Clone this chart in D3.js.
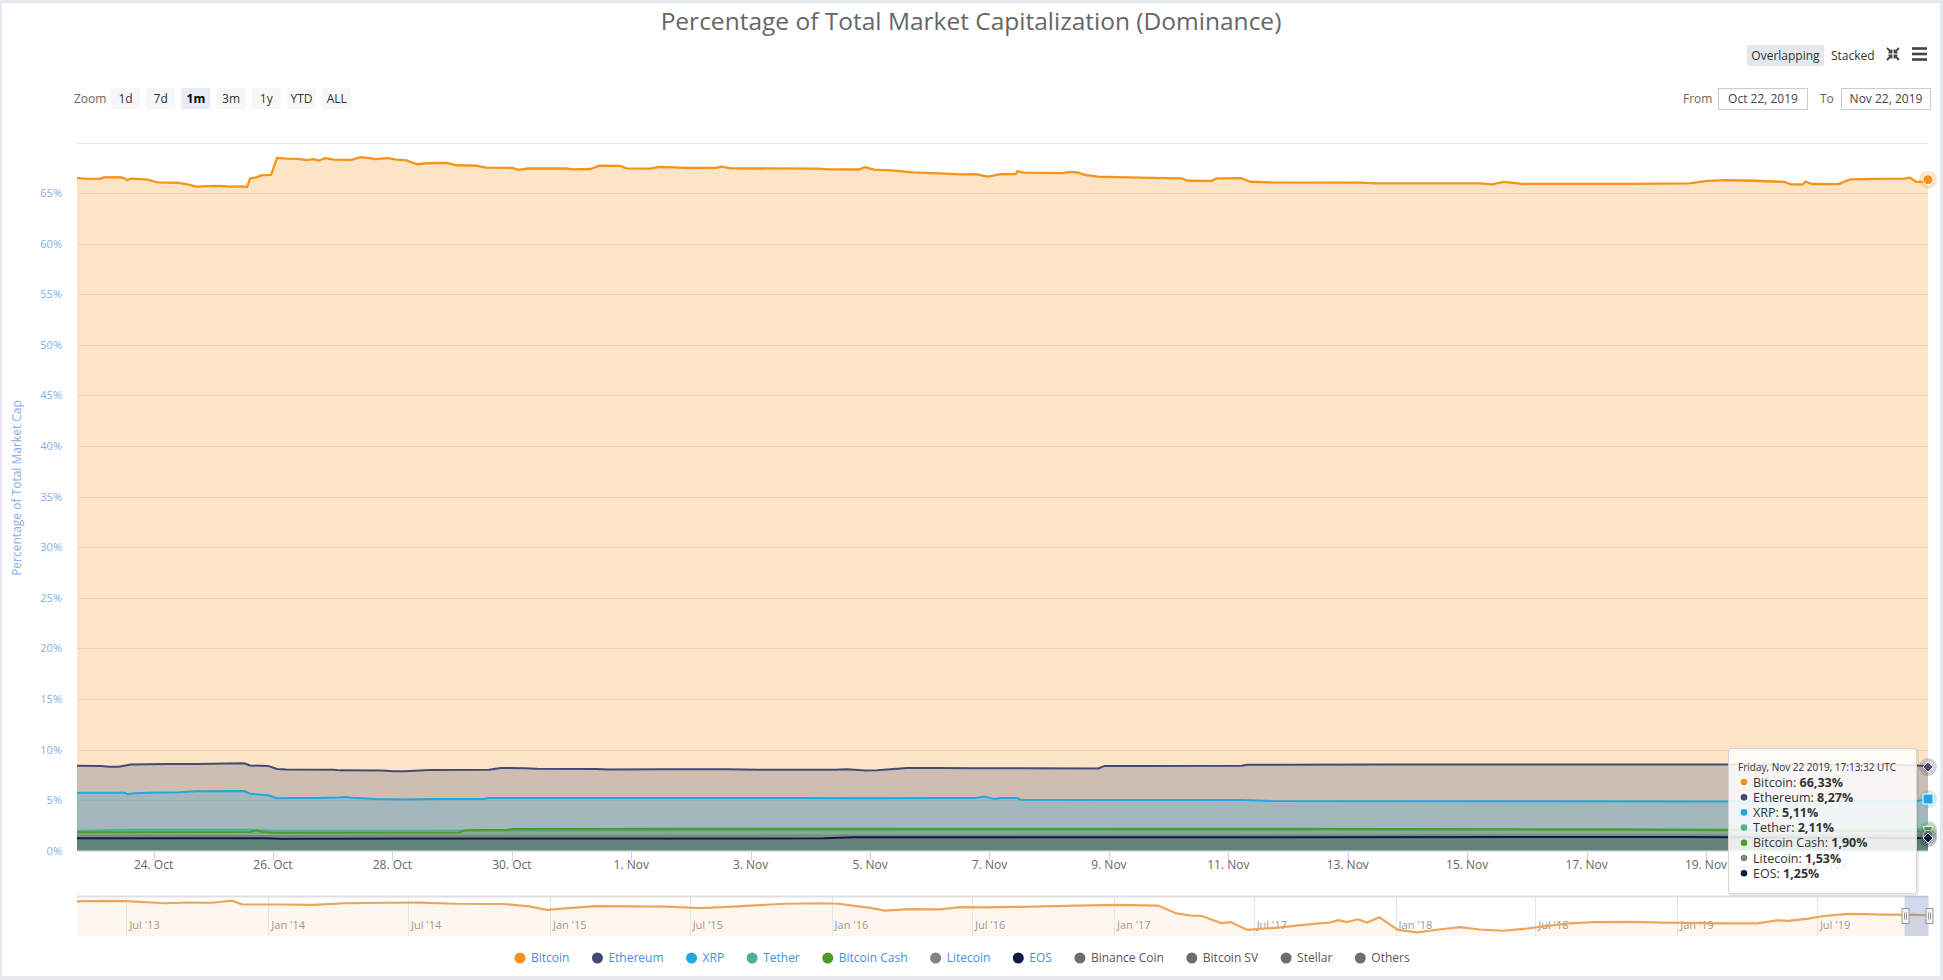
<!DOCTYPE html>
<html>
<head>
<meta charset="utf-8">
<script src="https://cdn.jsdelivr.net/npm/d3@7"></script>
<style>
  body { margin: 0; background: #e6eaef; }
  svg { display: block; }
  text { font-family: "Open Sans", sans-serif; }
</style>
</head>
<body>
<svg id="chart"></svg>
<script>
// values: [days since Oct 22 2019 17:13:32 UTC, % of total market cap]
const bitcoin = [[0, 66.50], [0.1, 66.42], [0.38, 66.41], [0.45, 66.56], [0.72, 66.58], [0.8, 66.45], [0.84, 66.28], [0.9, 66.42], [1.15, 66.36], [1.25, 66.22], [1.35, 66.05], [1.7, 66.02], [1.85, 65.85], [2.0, 65.64], [2.2, 65.68], [2.4, 65.70], [2.55, 65.64], [2.7, 65.66], [2.85, 65.62], [2.9, 66.45], [3.0, 66.55], [3.1, 66.78], [3.25, 66.80], [3.35, 68.49], [3.5, 68.40], [3.7, 68.38], [3.85, 68.25], [3.95, 68.35], [4.05, 68.20], [4.15, 68.45], [4.3, 68.30], [4.6, 68.28], [4.75, 68.55], [4.9, 68.45], [5.0, 68.35], [5.2, 68.45], [5.35, 68.30], [5.5, 68.25], [5.7, 67.85], [5.85, 67.95], [6.2, 67.98], [6.35, 67.75], [6.7, 67.70], [6.85, 67.52], [7.3, 67.48], [7.4, 67.30], [7.55, 67.43], [8.2, 67.45], [8.3, 67.35], [8.6, 67.38], [8.75, 67.72], [9.1, 67.68], [9.2, 67.45], [9.6, 67.42], [9.75, 67.58], [10.0, 67.55], [10.2, 67.48], [10.7, 67.50], [10.8, 67.62], [10.95, 67.44], [12.4, 67.42], [12.6, 67.34], [13.1, 67.33], [13.2, 67.57], [13.35, 67.32], [13.7, 67.22], [14.0, 67.05], [14.45, 66.95], [14.8, 66.85], [15.05, 66.88], [15.25, 66.62], [15.45, 66.86], [15.72, 66.88], [15.75, 67.17], [15.85, 67.02], [16.5, 66.98], [16.62, 67.10], [16.75, 67.05], [16.88, 66.80], [17.1, 66.62], [17.6, 66.55], [18.0, 66.50], [18.5, 66.46], [18.6, 66.22], [18.99, 66.20], [19.09, 66.45], [19.5, 66.47], [19.65, 66.12], [20.0, 66.06], [21.5, 66.04], [21.75, 65.95], [23.5, 65.95], [23.7, 65.86], [23.9, 66.10], [24.2, 65.92], [26.0, 65.92], [27.0, 65.95], [27.3, 66.20], [27.6, 66.28], [28.1, 66.22], [28.6, 66.10], [28.7, 65.86], [28.9, 65.85], [28.95, 66.15], [29.05, 65.90], [29.5, 65.88], [29.7, 66.35], [30.1, 66.40], [30.6, 66.42], [30.7, 66.52], [30.8, 66.12], [30.95, 66.10], [31.0, 66.33]];
const ethereum = [[0, 8.40], [0.4, 8.38], [0.55, 8.30], [0.7, 8.30], [0.9, 8.52], [1.5, 8.56], [2.0, 8.58], [2.5, 8.62], [2.8, 8.64], [2.9, 8.42], [3.2, 8.38], [3.35, 8.08], [3.5, 8.02], [4.3, 8.00], [4.4, 7.94], [5.1, 7.92], [5.3, 7.86], [5.5, 7.86], [5.9, 7.98], [6.9, 8.00], [7.1, 8.18], [7.5, 8.16], [7.7, 8.10], [8.7, 8.08], [8.9, 8.03], [9.9, 8.04], [10.9, 8.04], [11.4, 7.99], [12.7, 7.99], [12.9, 8.04], [13.2, 7.92], [13.4, 7.94], [13.9, 8.18], [14.45, 8.18], [15.0, 8.14], [15.6, 8.14], [17.1, 8.12], [17.2, 8.36], [17.8, 8.38], [19.5, 8.40], [19.6, 8.50], [22.0, 8.52], [25.0, 8.53], [27.5, 8.52], [29.0, 8.50], [30.5, 8.50], [30.9, 8.40], [31.0, 8.27]];
const xrp = [[0, 5.72], [0.8, 5.72], [0.85, 5.58], [0.95, 5.68], [1.2, 5.72], [1.7, 5.78], [2.0, 5.88], [2.8, 5.90], [2.9, 5.62], [3.2, 5.48], [3.35, 5.18], [3.6, 5.22], [4.0, 5.20], [4.4, 5.25], [4.5, 5.30], [4.6, 5.24], [5.0, 5.10], [5.5, 5.07], [6.0, 5.10], [6.8, 5.12], [6.9, 5.20], [9.0, 5.20], [12.0, 5.20], [13.2, 5.18], [14.5, 5.20], [15.05, 5.20], [15.2, 5.36], [15.35, 5.12], [15.47, 5.20], [15.75, 5.20], [15.8, 5.04], [19.5, 5.02], [20.0, 4.92], [24.0, 4.88], [27.5, 4.87], [30.8, 4.90], [31.0, 5.11]];
const tether = [[0, 1.95], [0.5, 2.02], [0.9, 2.07], [2.9, 2.07], [3.3, 1.98], [6.0, 1.98], [7.0, 2.00], [10.0, 2.02], [15.0, 2.04], [20.0, 2.06], [25.0, 2.08], [28.0, 2.09], [31.0, 2.11]];
const bitcoinCash = [[0, 1.82], [2.9, 1.84], [3.0, 2.00], [3.1, 1.85], [3.3, 1.78], [6.4, 1.80], [6.5, 2.02], [7.2, 2.06], [7.3, 2.14], [10.0, 2.16], [14.0, 2.18], [18.0, 2.17], [22.0, 2.15], [26.0, 2.10], [28.5, 2.00], [29.5, 1.94], [31.0, 1.90]];
const litecoin = [[0, 1.48], [3.3, 1.45], [10.0, 1.50], [20.0, 1.52], [31.0, 1.53]];
const eos = [[0, 1.24], [3.2, 1.24], [3.4, 1.18], [6.0, 1.20], [12.5, 1.22], [13.0, 1.32], [20.0, 1.34], [27.0, 1.35], [29.0, 1.30], [31.0, 1.25]];

// navigator: bitcoin dominance over the whole history
const navBitcoin = [['2013-04-28', 93.5], ['2013-06-01', 94.8], ['2013-07-01', 94.0], ['2013-08-20', 90.0], ['2013-09-20', 91.5], ['2013-10-20', 91.0], ['2013-11-15', 95.0], ['2013-11-28', 87.5], ['2013-12-20', 87.5], ['2014-01-20', 87.5], ['2014-03-01', 87.0], ['2014-04-10', 90.0], ['2014-06-01', 91.0], ['2014-07-15', 91.2], ['2014-09-01', 89.0], ['2014-11-01', 88.5], ['2014-12-05', 84.0], ['2014-12-28', 77.0], ['2015-01-20', 80.0], ['2015-03-01', 84.5], ['2015-04-20', 84.0], ['2015-06-01', 83.5], ['2015-07-15', 80.5], ['2015-09-01', 84.0], ['2015-11-01', 89.0], ['2015-12-20', 90.0], ['2016-01-10', 89.0], ['2016-02-20', 81.0], ['2016-03-10', 75.5], ['2016-04-10', 78.5], ['2016-05-20', 78.0], ['2016-06-15', 82.5], ['2016-07-15', 82.0], ['2016-09-01', 83.0], ['2016-10-15', 84.5], ['2016-12-01', 86.0], ['2017-01-05', 87.0], ['2017-02-10', 86.0], ['2017-02-27', 85.5], ['2017-03-23', 70.0], ['2017-04-10', 66.0], ['2017-04-25', 65.0], ['2017-05-20', 51.0], ['2017-06-01', 53.0], ['2017-06-23', 37.6], ['2017-07-10', 40.0], ['2017-08-02', 42.0], ['2017-08-25', 46.0], ['2017-09-20', 50.0], ['2017-10-07', 52.0], ['2017-10-19', 57.0], ['2017-10-30', 53.0], ['2017-11-13', 58.5], ['2017-11-25', 52.0], ['2017-12-11', 62.5], ['2018-01-04', 37.6], ['2018-01-29', 33.0], ['2018-03-01', 39.0], ['2018-03-25', 43.0], ['2018-04-20', 38.5], ['2018-05-20', 36.0], ['2018-06-20', 40.5], ['2018-07-20', 46.0], ['2018-08-15', 50.7], ['2018-09-15', 53.0], ['2018-11-01', 53.3], ['2018-12-15', 52.0], ['2019-01-15', 51.5], ['2019-03-01', 50.5], ['2019-04-15', 50.7], ['2019-05-10', 56.5], ['2019-05-25', 55.5], ['2019-06-20', 60.0], ['2019-07-10', 65.0], ['2019-08-10', 69.0], ['2019-09-01', 68.5], ['2019-09-25', 67.6], ['2019-10-15', 67.8], ['2019-10-24', 66.0], ['2019-11-01', 67.5], ['2019-11-22', 66.3]];

const seriesNames = ['Bitcoin', 'Ethereum', 'XRP', 'Tether', 'Bitcoin Cash', 'Litecoin', 'EOS'];
const seriesValues = [bitcoin, ethereum, xrp, tether, bitcoinCash, litecoin, eos];
const hiddenNames = ['Binance Coin', 'Bitcoin SV', 'Stellar', 'Others'];
const yTicks = [0, 5, 10, 15, 20, 25, 30, 35, 40, 45, 50, 55, 60, 65, 70];
const xTickDates = ['2019-10-24', '2019-10-26', '2019-10-28', '2019-10-30', '2019-11-01', '2019-11-03', '2019-11-05', '2019-11-07', '2019-11-09', '2019-11-11', '2019-11-13', '2019-11-15', '2019-11-17', '2019-11-19', '2019-11-21'];
const navTickDates = ['2013-07-01', '2014-01-01', '2014-07-01', '2015-01-01', '2015-07-01', '2016-01-01', '2016-07-01', '2017-01-01', '2017-07-01', '2018-01-01', '2018-07-01', '2019-01-01', '2019-07-01'];
const zoomButtons = ['1d', '7d', '1m', '3m', '1y', 'YTD', 'ALL'];
const tooltipHeader = 'Friday, Nov 22 2019, 17:13:32 UTC';

const colors = ['#f7931a', '#454a75', '#23a7e0', '#50af95', '#4c9a2a', '#838383', '#0f1b45'];
const symbols = ['circle', 'diamond', 'square', 'triangle', 'triangle-down', 'circle', 'diamond'];

const DAY = 864e5;
const start = Date.UTC(2019, 9, 22, 17, 13, 32);
const end = start + 31 * DAY;

const W = 1943, H = 980;
const plot = { left: 77, right: 1928, top: 142.5, bottom: 850.7 };
const nav = { top: 896, bottom: 936 };

const svg = d3.select('#chart').attr('width', W).attr('height', H);

// card
svg.append('rect').attr('x', 2).attr('y', 3).attr('width', 1938).attr('height', 973).attr('fill', '#fff');

svg.append('text')
  .attr('x', 971).attr('y', 30)
  .attr('text-anchor', 'middle')
  .attr('font-size', 24.5).attr('fill', '#666')
  .text('Percentage of Total Market Capitalization (Dominance)');

// overlapping / stacked toggle + icons
svg.append('rect').attr('x', 1747).attr('y', 45).attr('width', 77).attr('height', 21).attr('rx', 2).attr('fill', '#e4e8ee');
svg.append('text').attr('x', 1785.5).attr('y', 59.5).attr('text-anchor', 'middle').attr('font-size', 12).attr('fill', '#333').text('Overlapping');
svg.append('text').attr('x', 1831).attr('y', 59.5).attr('font-size', 12).attr('fill', '#333').text('Stacked');
const fs = svg.append('g').attr('stroke', '#444').attr('stroke-width', 1.8).attr('fill', 'none');
[[1887, 48], [1899, 48], [1887, 60], [1899, 60]].forEach(([cx, cy]) => {
  const dx = cx < 1893 ? 1 : -1, dy = cy < 54 ? 1 : -1;
  fs.append('path').attr('d', `M${cx},${cy}L${cx + dx * 4.5},${cy + dy * 4.5}`);
  fs.append('path').attr('d', `M${cx + dx * 1.5},${cy + dy * 4.5}L${cx + dx * 4.5},${cy + dy * 4.5}L${cx + dx * 4.5},${cy + dy * 1.5}`);
});
[48.5, 54, 59.5].forEach(yy => {
  svg.append('rect').attr('x', 1912).attr('y', yy - 1.3).attr('width', 15).attr('height', 2.6).attr('fill', '#444');
});

// range selector
svg.append('text').attr('x', 74).attr('y', 102.5).attr('font-size', 12).attr('fill', '#666').text('Zoom');
zoomButtons.forEach((b, i) => {
  const bx = 111 + i * 35.2;
  const sel = b === '1m';
  svg.append('rect').attr('x', bx).attr('y', 88).attr('width', 29).attr('height', 21).attr('rx', 2)
    .attr('fill', sel ? '#e6ebf5' : '#f7f7f7');
  svg.append('text').attr('x', bx + 14.5).attr('y', 102.5).attr('text-anchor', 'middle')
    .attr('font-size', 12).attr('font-weight', sel ? 'bold' : 'normal')
    .attr('fill', sel ? '#000' : '#333').text(b);
});
svg.append('text').attr('x', 1683).attr('y', 102.5).attr('font-size', 12).attr('fill', '#666').text('From');
svg.append('text').attr('x', 1820).attr('y', 102.5).attr('font-size', 12).attr('fill', '#666').text('To');
[[1718, 'Oct 22, 2019'], [1841, 'Nov 22, 2019']].forEach(([bx, t]) => {
  svg.append('rect').attr('x', bx + 0.5).attr('y', 88.5).attr('width', 89).attr('height', 21)
    .attr('fill', '#fff').attr('stroke', '#ccc');
  svg.append('text').attr('x', bx + 45).attr('y', 102.5).attr('text-anchor', 'middle')
    .attr('font-size', 12).attr('fill', '#444').text(t);
});

// scales
const x = d3.scaleUtc().domain([start, end]).range([plot.left, plot.right]);
const y = d3.scaleLinear().domain([0, 70]).range([plot.bottom, plot.top]);

// grid
svg.append('g').selectAll('line').data(yTicks.slice(1)).enter().append('line')
  .attr('x1', plot.left).attr('x2', plot.right)
  .attr('y1', d => Math.round(y(d)) + 0.5).attr('y2', d => Math.round(y(d)) + 0.5)
  .attr('stroke', '#e8e8e8');

svg.append('g').selectAll('text').data(yTicks.slice(0, -1)).enter().append('text')
  .attr('x', 62).attr('y', d => y(d) + 4)
  .attr('text-anchor', 'end').attr('font-size', 11).attr('fill', '#82afe6')
  .text(d => d + '%');

svg.append('text')
  .attr('transform', 'translate(21,488) rotate(-90)')
  .attr('text-anchor', 'middle').attr('font-size', 12).attr('fill', '#82afe6')
  .text('Percentage of Total Market Cap');

// series
svg.append('clipPath').attr('id', 'clip').append('rect')
  .attr('x', plot.left).attr('y', plot.top - 5).attr('width', plot.right - plot.left).attr('height', plot.bottom - plot.top + 5);

const toPoints = arr => arr.map(([day, value]) => ({ date: new Date(start + day * DAY), value }));
const seriesData = seriesValues.map(toPoints);

const area = d3.area().x(d => x(d.date)).y0(y(0)).y1(d => y(d.value));
const line = d3.line().x(d => x(d.date)).y(d => y(d.value));

const plotG = svg.append('g').attr('clip-path', 'url(#clip)');
seriesData.forEach((data, i) => {
  const g = plotG.append('g');
  g.append('path').datum(data).attr('d', area).attr('fill', colors[i]).attr('fill-opacity', 0.25);
  g.append('path').datum(data).attr('d', line).attr('fill', 'none')
    .attr('stroke', colors[i]).attr('stroke-width', i === 0 ? 2.3 : 2).attr('stroke-linejoin', 'round');
});

// x axis
const xAxisG = svg.append('g');
xAxisG.append('line').attr('x1', plot.left).attr('x2', plot.right)
  .attr('y1', plot.bottom + 0.5).attr('y2', plot.bottom + 0.5).attr('stroke', '#ccd6eb');
const xTicks = xTickDates.map(d => new Date(d + 'T00:00:00Z'));
xAxisG.selectAll('.tick').data(xTicks).enter().append('line')
  .attr('x1', d => Math.round(x(d)) + 0.5).attr('x2', d => Math.round(x(d)) + 0.5)
  .attr('y1', plot.bottom).attr('y2', plot.bottom + 10).attr('stroke', '#ccd6eb');
xAxisG.selectAll('text').data(xTicks).enter().append('text')
  .attr('x', d => x(d)).attr('y', 869)
  .attr('text-anchor', 'middle').attr('font-size', 12).attr('fill', '#666')
  .text(d3.utcFormat('%-d. %b'));

// hover markers at the last point
function symbolPath(type, cx, cy, r) {
  if (type === 'diamond') return `M${cx},${cy - r}L${cx + r},${cy}L${cx},${cy + r}L${cx - r},${cy}Z`;
  if (type === 'square') return `M${cx - r},${cy - r}h${2 * r}v${2 * r}h${-2 * r}Z`;
  if (type === 'triangle') return `M${cx},${cy - r}L${cx + r},${cy + r}L${cx - r},${cy + r}Z`;
  if (type === 'triangle-down') return `M${cx - r},${cy - r}L${cx + r},${cy - r}L${cx},${cy + r}Z`;
  return `M${cx - r},${cy}a${r},${r} 0 1,0 ${2 * r},0a${r},${r} 0 1,0 ${-2 * r},0`;
}
seriesData.forEach((data, i) => {
  const last = data[data.length - 1];
  const cx = x(last.date), cy = y(last.value);
  svg.append('circle').attr('cx', cx).attr('cy', cy).attr('r', 9).attr('fill', colors[i]).attr('fill-opacity', 0.25);
  svg.append('path').attr('d', symbolPath(symbols[i], cx, cy, 5)).attr('fill', colors[i])
    .attr('stroke', '#fff').attr('stroke-width', 1);
});

// navigator
const navData = navBitcoin.map(([d, v]) => ({ date: new Date(d + 'T00:00:00Z'), value: v }));
const x2 = d3.scaleUtc().domain([navData[0].date, navData[navData.length - 1].date]).range([plot.left, plot.right]);
const y2 = d3.scaleLinear().domain([33, 95]).range([932.3, 900.7]);
const navG = svg.append('g');
navG.append('path').datum(navData)
  .attr('d', d3.area().x(d => x2(d.date)).y0(nav.bottom).y1(d => y2(d.value)))
  .attr('fill', '#f7931a').attr('fill-opacity', 0.07);
const navTicks = navTickDates.map(d => new Date(d + 'T00:00:00Z'));
navG.selectAll('.grid').data(navTicks).enter().append('line')
  .attr('x1', d => Math.round(x2(d)) + 0.5).attr('x2', d => Math.round(x2(d)) + 0.5)
  .attr('y1', nav.top).attr('y2', nav.bottom).attr('stroke', '#e6e6e6');
navG.selectAll('text').data(navTicks).enter().append('text')
  .attr('x', d => x2(d) + 3).attr('y', 929)
  .attr('font-size', 11).attr('fill', '#999')
  .text(d3.utcFormat("%b '%y"));
navG.append('path').datum(navData)
  .attr('d', d3.line().x(d => x2(d.date)).y(d => y2(d.value)))
  .attr('fill', 'none').attr('stroke', '#eda55a').attr('stroke-width', 2.2);
navG.append('line').attr('x1', plot.left).attr('x2', plot.right)
  .attr('y1', nav.top + 0.5).attr('y2', nav.top + 0.5).attr('stroke', '#e0e0e0').attr('stroke-width', 2);
const selX0 = x2(new Date(start)), selX1 = x2(new Date(end));
navG.append('rect').attr('x', selX0).attr('y', nav.top).attr('width', Math.max(selX1 - selX0, 0))
  .attr('height', nav.bottom - nav.top).attr('fill', 'rgba(102,133,194,0.3)');
[selX0, selX1].forEach(hx => {
  const hg = navG.append('g').attr('transform', `translate(${Math.round(hx) - 3.5},${908})`);
  hg.append('rect').attr('x', 0.5).attr('y', 0.5).attr('width', 7).attr('height', 15)
    .attr('fill', '#f2f2f2').attr('stroke', '#999');
  hg.append('path').attr('d', 'M3,4.5V11.5M5,4.5V11.5').attr('stroke', '#999').attr('fill', 'none');
});

// tooltip
const tip = svg.append('g').attr('transform', 'translate(1728,748)');
tip.append('rect').attr('x', 1.5).attr('y', 1.5).attr('width', 188).attr('height', 145).attr('rx', 3)
  .attr('fill', 'none').attr('stroke', '#000').attr('stroke-opacity', 0.08).attr('stroke-width', 3);
tip.append('rect').attr('x', 0.5).attr('y', 0.5).attr('width', 188).attr('height', 145).attr('rx', 3)
  .attr('fill', 'rgba(255,255,255,0.86)').attr('stroke', '#d6d6d6');
tip.append('text').attr('x', 10).attr('y', 23).attr('font-size', 10).attr('fill', '#333').text(tooltipHeader);
seriesData.forEach((data, i) => {
  const ty = 38.5 + i * 15.2;
  const v = data[data.length - 1].value;
  tip.append('circle').attr('cx', 16).attr('cy', ty - 4.5).attr('r', 3.3).attr('fill', colors[i]);
  const t = tip.append('text').attr('x', 25).attr('y', ty).attr('font-size', 12.5).attr('fill', '#333');
  t.append('tspan').text(seriesNames[i] + ': ');
  t.append('tspan').attr('font-weight', 'bold').text(v.toFixed(2).replace('.', ',') + '%');
});

// legend
const legendItems = seriesNames.map((n, i) => ({ name: n, color: colors[i], active: true }))
  .concat(hiddenNames.map(n => ({ name: n, color: '#6e6e6e', active: false })));
const legend = svg.append('g');
let lx = 0;
legendItems.forEach(item => {
  const g = legend.append('g').attr('transform', `translate(${lx},0)`);
  g.append('circle').attr('cx', 6).attr('cy', 0).attr('r', 5.5).attr('fill', item.color);
  const t = g.append('text').attr('x', 17).attr('y', 4.2).attr('font-size', 12)
    .attr('fill', item.active ? '#4a90d9' : '#555').text(item.name);
  lx += 17 + t.node().getComputedTextLength() + 22;
});
const legendWidth = lx - 22;
legend.attr('transform', `translate(${514},958)`);
</script>
</body>
</html>
